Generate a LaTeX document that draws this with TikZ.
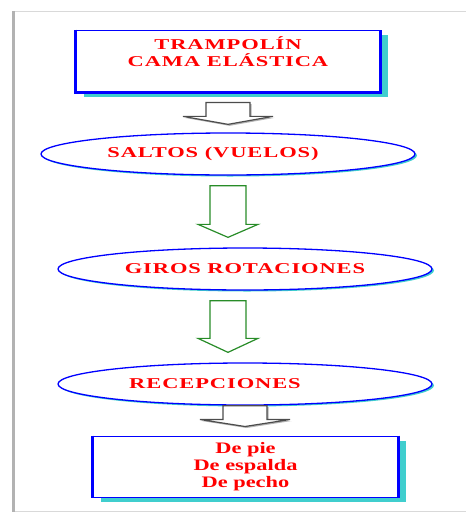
\documentclass[tikz,border=0pt]{standalone}
\usepackage{fontspec}
\setmainfont{Liberation Serif}
\newfontfamily\spaced[LetterSpace=4]{Liberation Serif}
\usetikzlibrary{calc,shapes.geometric,shadows}
\definecolor{sombra}{RGB}{64,206,206}
\definecolor{verde}{RGB}{40,140,40}
\newcommand{\ancho}[1]{\scalebox{1.4}[1]{#1}}
\newcommand{\anchomas}[1]{\scalebox{1.5}[1]{#1}}
\tikzset{
  caja/.style        = {draw=blue, line width=1pt, fill=white, minimum width=304pt,
                        minimum height=62pt,
                        drop shadow={shadow xshift=8pt, shadow yshift=-5pt, fill=sombra, opacity=1}},
  lado/.style        = {blue, line width=3pt},
  elipse/.style      = {ellipse, draw=blue, line width=1.3pt, fill=white, inner sep=0pt,
                        minimum width=374pt, minimum height=42pt,
                        drop shadow={shadow xshift=2pt, shadow yshift=-1.5pt, fill=sombra, opacity=1}},
  mayus/.style       = {text=red, font=\spaced\bfseries\fontsize{15}{17}\selectfont},
  minus/.style       = {text=red, font=\bfseries\fontsize{16}{17}\selectfont},
  flechagris/.style  = {draw=gray!60!black, line width=1.2pt, fill=white,
                        drop shadow={shadow xshift=1.5pt, shadow yshift=-1.5pt, fill=gray, opacity=.6}},
  flechaverde/.style = {draw=verde, line width=1.2pt, fill=white},
  marco/.style       = {gray!30, line width=1pt},
}

\begin{document}
\begin{tikzpicture}[x=1pt, y=-1pt]
\useasboundingbox (0,0) rectangle (466,512);

% ── page frame ────────────────────────────────────────────────
\draw[marco] (12,11) -- (466,11);
\draw[marco] (12,511) -- (466,511);
\draw[marco, gray!60, line width=3pt] (13,11) -- (13,512);

% ── boxes and ellipses ────────────────────────────────────────
\node[caja, mayus, align=center] (cama) at (228,61)
  {\anchomas{TRAMPOLÍN}\\\anchomas{CAMA ELÁSTICA}\\\rule{0pt}{18pt}};
\draw[lado] (cama.north west) -- (cama.south west) -- (cama.south east) -- (cama.north east);

\node[elipse, mayus] (saltos) at (228,154) {\anchomas{SALTOS (VUELOS)}\kern30pt};
\node[elipse, mayus] (giros)  at (245,269) {\anchomas{GIROS ROTACIONES}};
\node[elipse, mayus] (recep)  at (245,384) {\anchomas{RECEPCIONES}\kern60pt};

\node[caja, minus, align=center, minimum width=305pt, minimum height=61pt] (tipos) at (245.5,466.5)
  {\ancho{De pie}\\\ancho{De espalda}\\\ancho{De pecho}};
\draw[lado] (tipos.north west) -- (tipos.south west);
\draw[lado] (tipos.north east) -- (tipos.south east);

% ── block arrows: from / to / gaps / shift / shaft / head / head length
\foreach \a/\b/\ga/\gb/\dx/\s/\h/\l/\estilo in {%
    cama/saltos/10/8/0/22/45/8/flechagris,
    saltos/giros/10/10/0/18/30/13/flechaverde,
    giros/recep/10/10/-17/18/30/14/flechaverde,
    recep/tipos/0/9/0/22/45/7/flechagris}{
  \draw[\estilo] let \p1=($(\a.south)+(\dx,\ga)$), \p2=($(\b.north)+(0,-\gb)$) in
    ({\x1-\s pt},\y1) -- ({\x1+\s pt},\y1) -- ({\x1+\s pt},{\y2+\l pt})
    -- ({\x1+\h pt},{\y2+\l pt}) -- (\x1,\y2) -- ({\x1-\h pt},{\y2+\l pt})
    -- ({\x1-\s pt},{\y2+\l pt}) -- cycle;
}

\end{tikzpicture}
\end{document}
